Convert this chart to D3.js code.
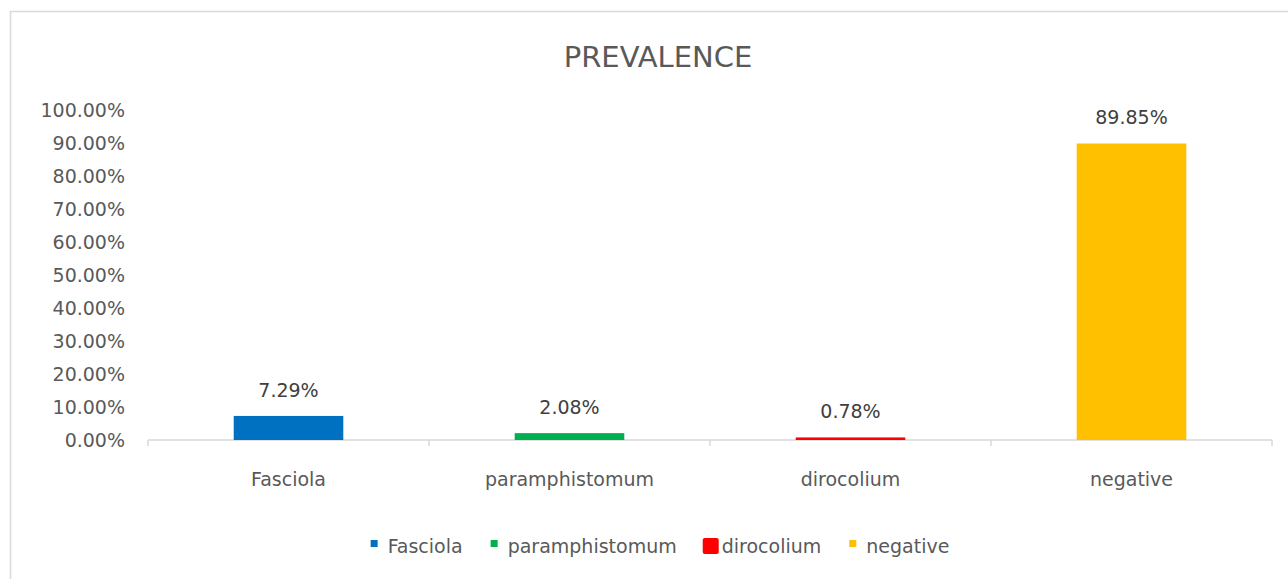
<!DOCTYPE html>
<html>
<head>
<meta charset="utf-8">
<script src="https://cdn.jsdelivr.net/npm/d3@7"></script>
<style>
  html, body { margin: 0; padding: 0; background: #fff; }
  svg { display: block; }
  text { font-family: "DejaVu Sans", sans-serif; }
</style>
</head>
<body>
<script>
// ---- data ----
const categories = ["Fasciola", "paramphistomum", "dirocolium", "negative"];
const prevalence = [0.0729, 0.0208, 0.0078, 0.8985];
const valueLabels = ["7.29%", "2.08%", "0.78%", "89.85%"];
const yTicks = [0, 0.1, 0.2, 0.3, 0.4, 0.5, 0.6, 0.7, 0.8, 0.9, 1.0];
const chartTitle = "PREVALENCE";

// ---- styles ----
const colors = ["#0070C0", "#00B050", "#FF0000", "#FFC000"];
const textColor = "#595959";
const W = 1288, H = 579;
const plotLeft = 148, plotRight = 1272, plotTop = 110, plotBottom = 440;
const frameCenter = 658;
const fs = 19;

const svg = d3.select("body").append("svg").attr("width", W).attr("height", H);

// chart frame
svg.append("rect")
  .attr("x", 10.5).attr("y", 11.5)
  .attr("width", 1300).attr("height", 600)
  .attr("fill", "#fff").attr("stroke", "#d9d9d9").attr("stroke-width", 1.5);

// scales
const x = d3.scaleBand().domain(categories).range([plotLeft, plotRight])
  .paddingInner(0.61).paddingOuter(0.305);
const y = d3.scaleLinear().domain([0, 1]).range([plotBottom, plotTop]);

// title
svg.append("text")
  .attr("x", frameCenter).attr("y", 67)
  .attr("text-anchor", "middle")
  .attr("font-size", 29)
  .attr("fill", textColor)
  .text(chartTitle);

// y axis
const yAxis = svg.append("g")
  .attr("transform", `translate(${plotLeft},0)`)
  .call(d3.axisLeft(y).tickValues(yTicks).tickFormat(d3.format(".2%")).tickSize(0).tickPadding(23));
yAxis.select(".domain").remove();
yAxis.selectAll("text").attr("font-size", fs).attr("fill", textColor)
  .attr("font-family", "DejaVu Sans, sans-serif");

// x axis
const xAxis = svg.append("g")
  .attr("transform", `translate(0,${plotBottom})`)
  .call(d3.axisBottom(x).tickSize(0).tickPadding(33));
xAxis.select(".domain").attr("stroke", "#d9d9d9").attr("stroke-width", 1.5)
  .attr("d", `M${plotLeft},0H${plotRight}`);
xAxis.selectAll("text").attr("font-size", fs).attr("fill", textColor)
  .attr("font-family", "DejaVu Sans, sans-serif");
// category boundary ticks
const bounds = d3.range(categories.length + 1).map(i => plotLeft + i * x.step());
xAxis.selectAll("line.bound").data(bounds).enter().append("line")
  .attr("class", "bound")
  .attr("x1", d => d).attr("x2", d => d)
  .attr("y1", 0).attr("y2", 6)
  .attr("stroke", "#d9d9d9").attr("stroke-width", 1.5);

// bars
svg.append("g").selectAll("rect").data(categories).enter().append("rect")
  .attr("x", d => x(d))
  .attr("width", x.bandwidth())
  .attr("y", (d, i) => y(prevalence[i]))
  .attr("height", (d, i) => plotBottom - y(prevalence[i]))
  .attr("fill", (d, i) => colors[i]);

// data labels
svg.append("g").selectAll("text").data(categories).enter().append("text")
  .attr("x", d => x(d) + x.bandwidth() / 2)
  .attr("y", (d, i) => y(prevalence[i]) - 19)
  .attr("text-anchor", "middle")
  .attr("font-size", fs)
  .attr("fill", "#404040")
  .text((d, i) => valueLabels[i]);

// legend
const legend = svg.append("g");
const markerSize = [7, 7, 16, 7];
const items = legend.selectAll("g").data(categories).enter().append("g");
items.append("text")
  .attr("font-size", fs)
  .attr("fill", textColor)
  .attr("y", 553)
  .text(d => d);
let cursor = 0;
const positions = [];
items.each(function (d, i) {
  const tw = d3.select(this).select("text").node().getComputedTextLength();
  positions.push({ mx: cursor, tx: cursor + 17, end: cursor + 17 + tw });
  cursor = cursor + 17 + tw + 28;
});
const totalW = positions[positions.length - 1].end;
const offset = frameCenter - totalW / 2 + 2;
items.each(function (d, i) {
  const g = d3.select(this);
  g.select("text").attr("x", offset + positions[i].tx);
  const s = markerSize[i];
  const cx = offset + positions[i].mx + 3.5;
  g.append("rect")
    .attr("x", s > 7 ? offset + positions[i].tx - s - 3 : cx - s / 2)
    .attr("y", s > 7 ? 546 - s / 2 : 543.5 - s / 2)
    .attr("width", s).attr("height", s)
    .attr("rx", s > 7 ? 2 : 0)
    .attr("fill", colors[i]);
});
</script>
</body>
</html>
